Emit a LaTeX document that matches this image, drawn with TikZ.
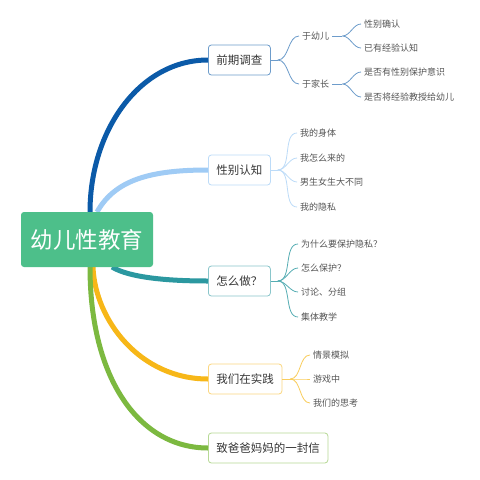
\documentclass[tikz,border=0pt]{standalone}
\usepackage{fontspec}
\setmainfont{Noto Sans CJK SC}
\definecolor{mmroot}{RGB}{77,191,138}
\definecolor{mmblue}{RGB}{11,90,168}
\definecolor{mmsky}{RGB}{159,203,245}
\definecolor{mmteal}{RGB}{43,152,160}
\definecolor{mmyellow}{RGB}{247,183,24}
\definecolor{mmgreen}{RGB}{124,185,64}
\definecolor{mmtext}{RGB}{55,55,55}
\usetikzlibrary{positioning}

\begin{document}
\begin{tikzpicture}[x=1pt, y=-1pt,
  rootbox/.style={fill=mmroot, rounded corners=3pt, minimum width=132pt, minimum height=55pt,
    text=white, font=\fontsize{22.5}{24}\selectfont},
  topic/.style={draw, fill=white, rounded corners=3pt, line width=0.8pt, minimum height=30pt,
    inner xsep=8pt, anchor=west, text=mmtext, font=\fontsize{11.5}{13}\selectfont},
  leaf/.style={anchor=west, inner sep=3pt, text=mmtext!85, font=\fontsize{9}{11}\selectfont},
  limb/.style={line width=5pt},
  twig/.style={line width=0.8pt},
  brace/.style={out=0, in=180, looseness=0.9}]
\fill[white] (0,0) rectangle (480,480);
\useasboundingbox (0,0) rectangle (480,480);
% Topics
\node[topic, draw=mmblue!60] (survey) at (208,60) {前期调查};
\node[topic, draw=mmsky!70] (gender) at (208,170) {性别认知};
\node[topic, draw=mmteal!55] (how) at (208,281) {怎么做？};
\node[topic, draw=mmyellow!55] (practice) at (208,379) {我们在实践};
\node[topic, draw=mmgreen!55] (letter) at (208,448) {致爸爸妈妈的一封信};
% Limbs (the root box is drawn over their ends)
\coordinate (rn) at (87,212);
\coordinate (rs) at (87,267);
\draw[limb, mmblue] ([xshift=3pt]rn) .. controls +(0,-82) and +(-68,0) .. (survey.west);
\draw[limb, mmsky] ([xshift=10pt]rn) .. controls +(18,-32) and +(-58,0) .. (gender.west);
\draw[limb, mmteal] ([xshift=25pt]rs) .. controls +(18,11) and +(-38,0) .. (how.west);
\draw[limb, mmyellow] ([xshift=6pt]rs) .. controls +(2,53) and +(-68,0) .. (practice.west);
\draw[limb, mmgreen] ([xshift=3pt]rs) .. controls +(0,113) and +(-68,0) .. (letter.west);
% Root
\node[rootbox] (root) at (87,239.5) {幼儿性教育};
% Survey
\node[leaf] (kid) at (299,36) {于幼儿};
\node[leaf] (parent) at (299,84) {于家长};
\node[leaf] (kidA) at (361,24) {性别确认};
\node[leaf] (kidB) at (361,48) {已有经验认知};
\node[leaf] (parentA) at (361,72) {是否有性别保护意识};
\node[leaf] (parentB) at (361,97) {是否将经验教授给幼儿};
\draw[twig, mmblue!60] (survey.east) -- ++(7,0) coordinate (sj);
\draw[twig, mmblue!60] (kid.east) -- ++(10,0) coordinate (kj);
\draw[twig, mmblue!60] (parent.east) -- ++(10,0) coordinate (pj);
\foreach \c in {kid,parent} \draw[twig, mmblue!60] (sj) to[brace] (\c.west);
\foreach \c in {kidA,kidB} \draw[twig, mmblue!60] (kj) to[brace] (\c.west);
\foreach \c in {parentA,parentB} \draw[twig, mmblue!60] (pj) to[brace] (\c.west);
% Gender
\node[leaf] (body) at (297,133) {我的身体};
\node[leaf] (born) at (297,158) {我怎么来的};
\node[leaf] (differ) at (297,182) {男生女生大不同};
\node[leaf] (privacy) at (297,207) {我的隐私};
\draw[twig, mmsky!70] (gender.east) -- ++(7,0) coordinate (gj);
\foreach \c in {body,born,differ,privacy} \draw[twig, mmsky!70] (gj) to[brace] (\c.west);
% How
\node[leaf] (why) at (298,244) {为什么要保护隐私？};
\node[leaf] (protect) at (298,268) {怎么保护？};
\node[leaf] (discuss) at (298,292) {讨论、分组};
\node[leaf] (teach) at (298,317) {集体教学};
\draw[twig, mmteal!80] (how.east) -- ++(7,0) coordinate (hj);
\foreach \c in {why,protect,discuss,teach} \draw[twig, mmteal!80] (hj) to[brace] (\c.west);
% Practice
\node[leaf] (scene) at (310,355) {情景模拟};
\node[leaf] (game) at (310,379) {游戏中};
\node[leaf] (think) at (310,403) {我们的思考};
\draw[twig, mmyellow!70] (practice.east) -- ++(8,0) coordinate (pr);
\foreach \c in {scene,game,think} \draw[twig, mmyellow!70] (pr) to[brace] (\c.west);
\end{tikzpicture}
\end{document}
